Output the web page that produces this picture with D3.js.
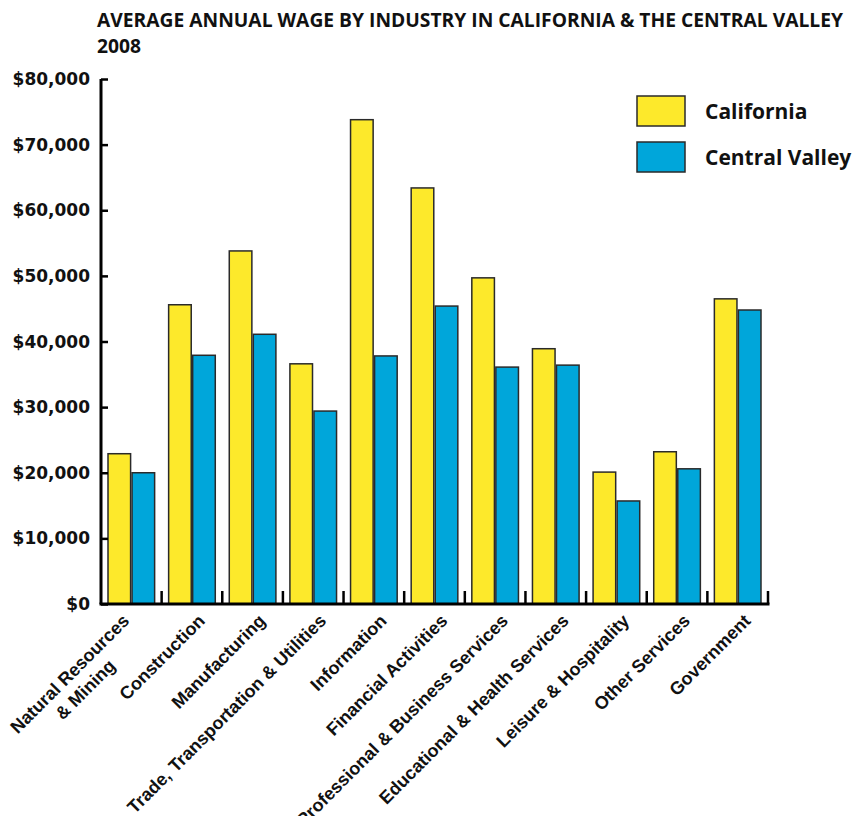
<!DOCTYPE html>
<html lang="en">
<head>
    <meta charset="UTF-8">
    <script src="https://cdn.jsdelivr.net/npm/d3@7"></script>
    <title>Average Annual Wage by Industry</title>
    <style>
        html, body {
            margin: 0px;
            padding: 0px;
            background-color: #ffffff;
        }
        .title { font-family: "Open Sans", sans-serif; font-weight: 700; fill: #111; }
        .ylab { font-family: "DejaVu Sans", sans-serif; font-weight: 700; font-size: 17px; fill: #111; }
        .xlab { font-family: "Liberation Sans", Arial, sans-serif; font-weight: 700; font-size: 18px; fill: #111; }
        .leg { font-family: "Open Sans", sans-serif; font-weight: 700; font-size: 21px; fill: #111; }
    </style>
</head>
<body>
    <div id="chart"></div>
    <script>
        // data
        let industries = [
            ['Natural Resources', '& Mining'],
            ['Construction'],
            ['Manufacturing'],
            ['Trade, Transportation & Utilities'],
            ['Information'],
            ['Financial Activities'],
            ['Professional & Business Services'],
            ['Educational & Health Services'],
            ['Leisure & Hospitality'],
            ['Other Services'],
            ['Government']
        ];
        let california = [22900, 45600, 53800, 36600, 73800, 63400, 49700, 38900, 20100, 23200, 46500];
        let centralValley = [20000, 37900, 41100, 29400, 37800, 45400, 36100, 36400, 15700, 20600, 44800];
        let seriesNames = ['California', 'Central Valley'];
        let seriesColors = ['#fde92b', '#00a6da'];
        let yTicks = [0, 10000, 20000, 30000, 40000, 50000, 60000, 70000, 80000];

        let width = 853, height = 816;
        let margin = {left: 101, right: 85, top: 79, bottom: 212};

        let svg = d3.select('#chart').append('svg')
            .attr('width', width).attr('height', height);

        let keys = industries.map((d, i) => i);
        let x0 = d3.scaleBand().domain(keys).range([margin.left, width - margin.right]);
        let x1 = d3.scaleBand().domain(seriesNames).range([7, x0.bandwidth() - 7]).paddingInner(0.06);
        let y = d3.scaleLinear().domain([0, 80000]).range([height - margin.bottom, margin.top]);

        // title
        svg.append('text').attr('class', 'title')
            .attr('x', 97).attr('y', 27)
            .attr('font-size', 19)
            .attr('textLength', 746).attr('lengthAdjust', 'spacingAndGlyphs')
            .text('AVERAGE ANNUAL WAGE BY INDUSTRY IN CALIFORNIA & THE CENTRAL VALLEY');
        svg.append('text').attr('class', 'title')
            .attr('x', 97).attr('y', 53)
            .attr('font-size', 19)
            .attr('textLength', 44).attr('lengthAdjust', 'spacingAndGlyphs')
            .text('2008');

        // bars
        let rows = keys.map(i => ({i: i, vals: [california[i], centralValley[i]]}));
        let groups = svg.selectAll('g.grp')
            .data(rows)
            .join('g')
            .attr('class', 'grp')
            .attr('transform', d => `translate(${x0(d.i)},0)`);
        groups.selectAll('rect')
            .data(d => d.vals.map((v, k) => ({k: k, v: v})))
            .join('rect')
            .attr('x', d => x1(seriesNames[d.k]))
            .attr('y', d => y(d.v))
            .attr('width', x1.bandwidth())
            .attr('height', d => y(0) - y(d.v))
            .attr('fill', d => seriesColors[d.k])
            .attr('stroke', '#2a2a2a')
            .attr('stroke-width', 1.5);

        // y axis
        let yAxis = svg.append('g')
            .attr('transform', `translate(${margin.left},0)`)
            .call(d3.axisRight(y).tickValues(yTicks).tickSize(7).tickFormat(''));
        yAxis.select('.domain').attr('stroke', '#000').attr('stroke-width', 3)
            .attr('d', `M0,${margin.top}V${y(0)}`);
        yAxis.selectAll('.tick line').attr('stroke', '#000').attr('stroke-width', 2.5);

        svg.selectAll('text.ylab')
            .data(yTicks)
            .join('text')
            .attr('class', 'ylab')
            .attr('x', 90)
            .attr('y', d => y(d) + 6)
            .attr('text-anchor', 'end')
            .text(d => '$' + d3.format(',')(d));

        // x axis with inward ticks at group edges
        let xAxis = svg.append('g').attr('transform', `translate(0,${y(0)})`);
        xAxis.append('line')
            .attr('x1', margin.left - 1.5).attr('x2', width - margin.right + 1.5)
            .attr('stroke', '#000').attr('stroke-width', 3);
        xAxis.selectAll('line.tk')
            .data(keys)
            .join('line')
            .attr('class', 'tk')
            .attr('x1', d => x0(d) + x0.bandwidth())
            .attr('x2', d => x0(d) + x0.bandwidth())
            .attr('y1', 0).attr('y2', -13)
            .attr('stroke', '#000').attr('stroke-width', 2.5);

        // rotated category labels (two-line label is centred as a block)
        industries.forEach((lines, i) => {
            let cx = x0(i) + x0.bandwidth() / 2 + (lines.length > 1 ? -1 : 14);
            let cy = y(0) + 18;
            let t = svg.append('text').attr('class', 'xlab')
                .attr('transform', `translate(${cx},${cy}) rotate(-45)`)
                .attr('text-anchor', 'end')
                .text(lines[0]);
            if (lines.length > 1) {
                let w = t.node().getComputedTextLength();
                svg.append('text').attr('class', 'xlab')
                    .attr('transform', `translate(${cx},${cy}) rotate(-45)`)
                    .attr('x', -w / 2).attr('y', 22)
                    .attr('text-anchor', 'middle')
                    .text(lines[1]);
            }
        });

        // legend
        let legend = svg.append('g').attr('transform', 'translate(637,96)');
        seriesNames.forEach((name, k) => {
            legend.append('rect')
                .attr('x', 0).attr('y', k * 46)
                .attr('width', 48).attr('height', 30)
                .attr('fill', seriesColors[k])
                .attr('stroke', '#2a2a2a').attr('stroke-width', 1.5);
            legend.append('text').attr('class', 'leg')
                .attr('x', 68).attr('y', k * 46 + 23)
                .text(name);
        });
    </script>
</body>
</html>
